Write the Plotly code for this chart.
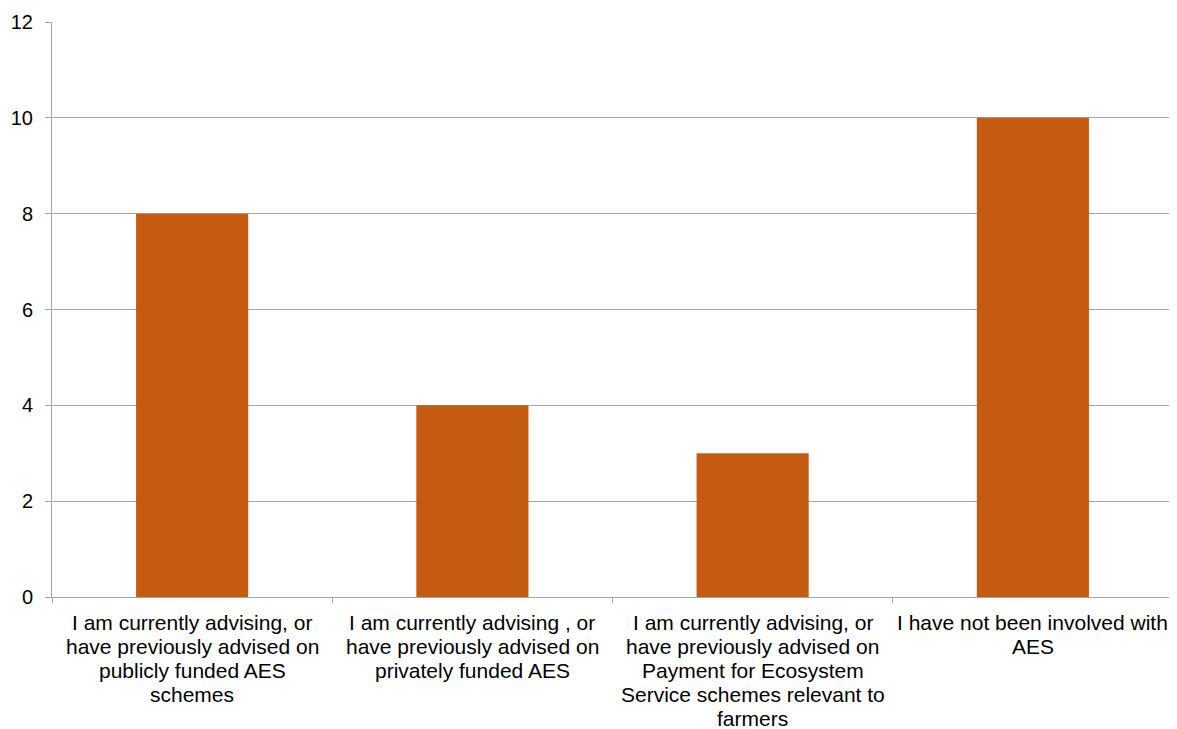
import plotly.graph_objects as go

categories = [
    "I am currently advising, or<br>have previously advised on<br>publicly funded AES<br>schemes",
    "I am currently advising , or<br>have previously advised on<br>privately funded AES",
    "I am currently advising, or<br>have previously advised on<br>Payment for Ecosystem<br>Service schemes relevant to<br>farmers",
    "I have not been involved with<br>AES",
]
values = [8, 4, 3, 10]
y_ticks = [0, 2, 4, 6, 8, 10, 12]

fig = go.Figure(go.Bar(x=categories, y=values, marker=dict(color="#C55A11", line=dict(width=0)), width=0.4))

font = dict(family="Liberation Sans, Arial, sans-serif", size=21, color="#000000")
yfont = dict(family="Liberation Sans, Arial, sans-serif", size=20, color="#000000")

# category labels drawn line by line for tighter line spacing
for cat in categories:
    for i, line in enumerate(cat.split("<br>")):
        fig.add_annotation(
            x=cat, xref="x", y=0, yref="paper", yanchor="top", xanchor="center",
            yshift=-12 - 24 * i, text=line, showarrow=False, font=font,
        )

fig.update_layout(
    width=1169, height=721,
    margin=dict(l=44, r=4, t=14, b=132),
    paper_bgcolor="white", plot_bgcolor="white",
    font=font, showlegend=False,
)
fig.update_xaxes(
    showgrid=False, showline=True, linecolor="#A6A6A6", linewidth=1,
    ticks="outside", tickson="boundaries", ticklen=5, tickcolor="#A6A6A6",
    showticklabels=False, fixedrange=True, automargin=False,
)
fig.update_yaxes(
    range=[0, 12], tickvals=y_ticks, showgrid=True, gridcolor="#A6A6A6", gridwidth=1,
    showline=True, linecolor="#A6A6A6", linewidth=1,
    ticks="outside", ticklen=6, tickcolor="#A6A6A6", tickfont=yfont, zeroline=False,
    ticklabelstandoff=8, automargin=False,
)
fig.write_html("out.html")
